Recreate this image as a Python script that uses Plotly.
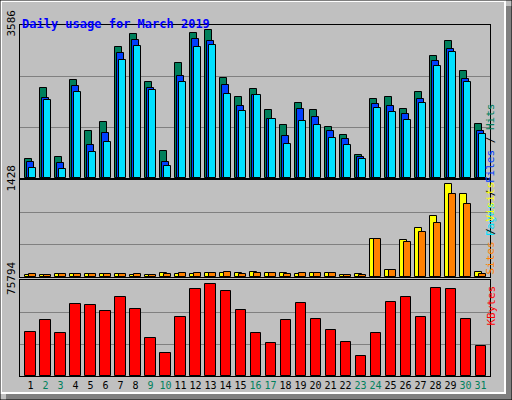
import plotly.graph_objects as go

days = list(range(1, 32))
weekend = [2, 3, 9, 10, 16, 17, 23, 24, 30, 31]
hits = [445, 2110, 492, 2297, 1102, 1313, 3071, 3375, 2250, 633, 2696, 3399, 3469, 2344, 1899,
        2086, 1594, 1242, 1758, 1594, 1195, 1008, 539, 1852, 1899, 1617, 2016, 2860, 3211, 2508, 1266]
files = [375, 1875, 352, 2157, 774, 1055, 2930, 3235, 2110, 375, 2391, 3258, 3211, 2180, 1688,
         1946, 1383, 985, 1617, 1430, 1102, 914, 492, 1735, 1688, 1500, 1852, 2743, 3024, 2321, 1102]
pages = [234, 1828, 211, 2016, 610, 844, 2766, 3094, 2063, 281, 2250, 3071, 3118, 1969, 1571,
         1946, 1383, 797, 1336, 1242, 938, 774, 445, 1641, 1547, 1360, 1758, 2625, 2954, 2250, 1031]
visits = [34, 30, 49, 49, 49, 49, 49, 34, 30, 64, 49, 49, 64, 64, 64, 79, 64, 64, 49, 64, 64, 30, 49,
          566, 98, 551, 728, 891, 1363, 1215, 79]
sites = [49, 30, 49, 49, 49, 49, 49, 49, 30, 49, 64, 64, 64, 79, 49, 64, 64, 49, 64, 64, 64, 30, 30,
         566, 98, 522, 669, 802, 1215, 1068, 49]
kbytes = [34580, 44156, 33782, 56924, 56126, 51338, 62510, 52934, 29792, 17822, 46550, 68894,
          72884, 67298, 52136, 33782, 25802, 44156, 57722, 44954, 36176, 26600, 15428, 33782,
          58520, 62510, 46550, 69692, 68894, 44954, 23408]
max_hits, max_visits, max_kb = 3586, 1428, 75794

GREEN, BLUE, CYAN = "#00805C", "#0040FF", "#00E0FF"
YELLOW, ORANGE, RED = "#FFFF00", "#FF8000", "#FF0000"
FONT = "DejaVu Sans Mono"

fig = go.Figure()
line = dict(color="black", width=1)
for vals, col, off in [(hits, GREEN, -0.37), (files, BLUE, -0.23), (pages, CYAN, -0.1)]:
    fig.add_trace(go.Bar(x=days, y=vals, marker=dict(color=col, line=line), width=0.47, offset=off,
                         xaxis="x", yaxis="y"))
for vals, col, off in [(visits, YELLOW, -0.37), (sites, ORANGE, -0.1)]:
    fig.add_trace(go.Bar(x=days, y=vals, marker=dict(color=col, line=line), width=0.47, offset=off,
                         xaxis="x2", yaxis="y2"))
fig.add_trace(go.Bar(x=days, y=kbytes, marker=dict(color=RED, line=line), width=0.67,
                     xaxis="x3", yaxis="y3"))

xr = [0.3, 31.63]
xdom = [20 / 512, 490 / 512]
ticktext = [f"<span style='color:{GREEN if d in weekend else 'black'}'>{d}</span>" for d in days]
common_x = dict(range=xr, domain=xdom, showgrid=False, zeroline=False, fixedrange=True,
                showline=True, linecolor="black", mirror=True, automargin=False)
fig.update_layout(
    xaxis=dict(**common_x, anchor="y", showticklabels=False, ticks=""),
    xaxis2=dict(**common_x, anchor="y2", showticklabels=False, ticks=""),
    xaxis3=dict(**common_x, anchor="y3", tickvals=days, ticktext=ticktext, ticks="",
                tickangle=0, tickfont=dict(family=FONT, size=10)),
)

def yax(mx, dom, anchor):
    return dict(range=[0, mx], domain=dom, anchor=anchor, tickvals=[mx / 3, 2 * mx / 3, mx],
                ticktext=["", "", str(mx)], tickangle=-90, gridcolor="#808080", gridwidth=1,
                zeroline=False, showline=True, linecolor="black", mirror=True, ticks="",
                automargin=False, tickfont=dict(family=FONT, size=11, color="black"))

fig.update_layout(
    yaxis=yax(max_hits, [1 - 178 / 400, 1 - 25 / 400], "x"),
    yaxis2=yax(max_visits, [1 - 277 / 400, 1 - 180 / 400], "x2"),
    yaxis3=yax(max_kb, [1 - 376 / 400, 1 - 280 / 400], "x3"),
    barmode="overlay", showlegend=False, width=512, height=400,
    margin=dict(l=0, r=0, t=0, b=0, pad=0),
    paper_bgcolor="#C0C0C0", plot_bgcolor="#C0C0C0",
    bargap=0,
)

def span(t, c):
    return f"<span style='color:{c}'>{t}</span>"

anns = [
    (f"{span('Pages', CYAN)} / {span('Files', BLUE)} / {span('Hits', GREEN)}", 1 - 101 / 400),
    (f"{span('Sites', ORANGE)} / {span('Visits', YELLOW)}", 1 - 228 / 400),
    (span("KBytes", RED), 1 - 328 / 400),
]
for txt, y in anns:
    fig.add_annotation(text=txt, x=499 / 512, y=y, xref="paper", yref="paper", textangle=-90,
                       showarrow=False, font=dict(family=FONT, size=11, color="black"))
fig.add_annotation(text="<b>Daily usage for March 2019</b>", x=20 / 512, y=1 - 15 / 400,
                   xref="paper", yref="paper", xanchor="left", showarrow=False,
                   font=dict(family=FONT, size=12, color="#0000FF"))

shapes = [
    dict(type="rect", xref="paper", yref="paper", x0=506 / 512, x1=1, y0=0, y1=1 - 6 / 400,
         fillcolor="#808080", line=dict(width=0)),
    dict(type="rect", xref="paper", yref="paper", x0=6 / 512, x1=1, y0=0, y1=6 / 400,
         fillcolor="#808080", line=dict(width=0)),
    dict(type="rect", xref="paper", yref="paper", x0=1 / 512, x1=505 / 512, y0=7 / 400,
         y1=1 - 1 / 400, fillcolor="rgba(0,0,0,0)", line=dict(color="white", width=2)),
    dict(type="rect", xref="paper", yref="paper", x0=0, x1=1, y0=0, y1=1,
         fillcolor="rgba(0,0,0,0)", line=dict(color="black", width=1)),
]
fig.update_layout(shapes=shapes)
fig.write_html("out.html", config={"displayModeBar": False},
               post_script="document.body.style.margin='0';document.body.style.overflow='hidden';")
